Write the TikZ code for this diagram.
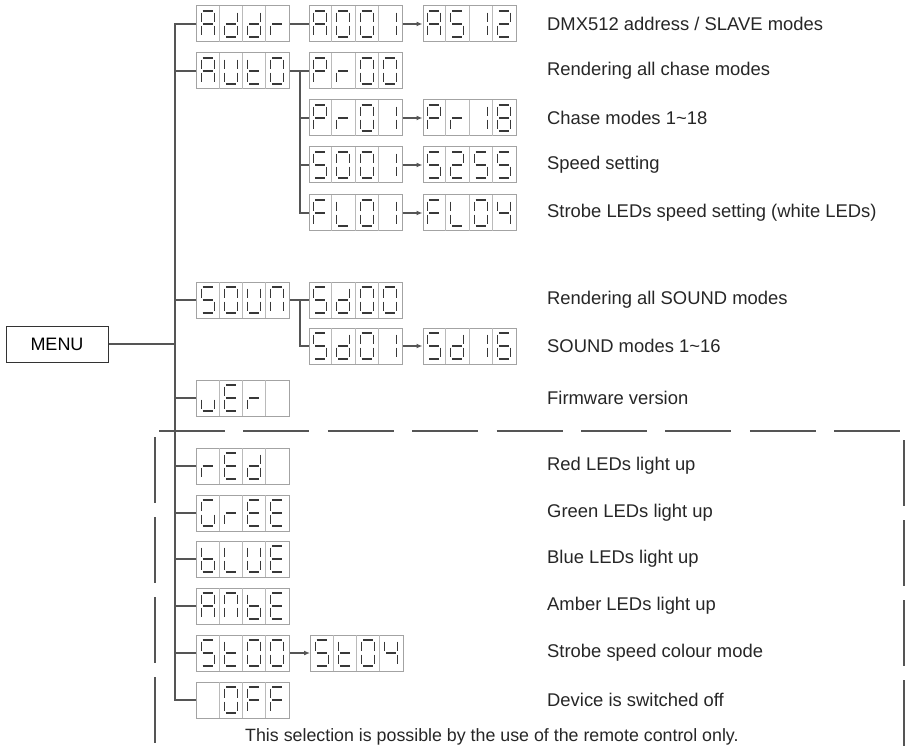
\documentclass[tikz,border=0pt]{standalone}
\usepackage{fontspec}
\setmainfont{Liberation Sans}
\usetikzlibrary{calc,arrows.meta}

\definecolor{linegray}{HTML}{555555}
\definecolor{boxgray}{HTML}{A3A3A3}
\definecolor{seggray}{HTML}{383838}

% segments of one digit, cell centre at origin (y runs down)
\newcommand{\sgA}{\draw[seg] (-4.9,-13) -- (4.9,-13);}
\newcommand{\sgB}{\draw[seg] (6.5,-11.4) -- (6.5,-1.6);}
\newcommand{\sgC}{\draw[seg] (6.5,1.6) -- (6.5,11.4);}
\newcommand{\sgD}{\draw[seg] (-4.9,13) -- (4.9,13);}
\newcommand{\sgE}{\draw[seg] (-6.5,1.6) -- (-6.5,11.4);}
\newcommand{\sgF}{\draw[seg] (-6.5,-11.4) -- (-6.5,-1.6);}
\newcommand{\sgG}{\draw[seg] (-4.9,0) -- (4.9,0);}

% glyphs
\newcommand{\dgA}{\sgA\sgB\sgC\sgE\sgF\sgG}
\newcommand{\dgd}{\sgB\sgC\sgD\sgE\sgG}
\newcommand{\dgr}{\sgE\sgG}
\newcommand{\dgO}{\sgA\sgB\sgC\sgD\sgE\sgF}
\newcommand{\dgone}{\sgB\sgC}
\newcommand{\dgtwo}{\sgA\sgB\sgG\sgE\sgD}
\newcommand{\dgfour}{\sgF\sgG\sgB\sgC}
\newcommand{\dgS}{\sgA\sgF\sgG\sgC\sgD}
\newcommand{\dgsix}{\sgA\sgF\sgG\sgE\sgD\sgC}
\newcommand{\dgeight}{\sgA\sgB\sgC\sgD\sgE\sgF\sgG}
\newcommand{\dgU}{\sgB\sgC\sgD\sgE\sgF}
\newcommand{\dgu}{\sgE\sgD\sgC}
\newcommand{\dgt}{\sgF\sgE\sgD\sgG}
\newcommand{\dgN}{\sgA\sgB\sgC\sgE\sgF}
\newcommand{\dgP}{\sgA\sgB\sgF\sgG\sgE}
\newcommand{\dgF}{\sgA\sgF\sgG\sgE}
\newcommand{\dgL}{\sgF\sgE\sgD}
\newcommand{\dgE}{\sgA\sgF\sgG\sgE\sgD}
\newcommand{\dgG}{\sgA\sgF\sgE\sgD\sgC}
\newcommand{\dgb}{\sgF\sgE\sgD\sgC\sgG}
\newcommand{\dgnone}{}

% one four-cell display: name, centre, glyphs
\newcommand{\display}[3]{%
  \node[dispbox] (#1) at (#2) {};
  \begin{scope}[shift={(#1.west)}]
    \foreach \k in {1,2,3} \draw[cellline] (\k*23.25,-18) -- (\k*23.25,18);
    \foreach \g [count=\i] in {#3} {\begin{scope}[xshift={(\i-0.5)*23.25}]\g\end{scope}}
  \end{scope}}

\begin{document}
\begin{tikzpicture}[x=1pt,y=-1pt,
  seg/.style={draw=seggray, line width=1.05pt},
  dispbox/.style={draw=boxgray, line width=1pt, minimum width=93pt, minimum height=36pt, inner sep=0pt},
  cellline/.style={draw=boxgray!75, line width=0.8pt},
  conn/.style={draw=linegray, line width=1.4pt},
  arr/.style={conn, -{Latex[length=6pt,width=5pt]}},
  lbl/.style={anchor=west, inner sep=0pt, text=black!85, font=\fontsize{18.4}{21}\selectfont},
  menubox/.style={draw=black!80, line width=1pt, minimum width=102pt, minimum height=36pt, inner sep=0pt, font=\fontsize{18}{21}\selectfont},
  sepline/.style={draw=linegray, line width=1.5pt}]
\useasboundingbox (0,0) rectangle (907,751);

\node[menubox] (menu) at (57,344) {MENU};
\coordinate (trunk) at (175,0);

% displays
\display{addr}{243,24}{\dgA,\dgd,\dgd,\dgr}
\display{a001}{355.5,24}{\dgA,\dgO,\dgO,\dgone}
\display{as12}{469.5,24}{\dgA,\dgS,\dgone,\dgtwo}
\display{auto}{243,71}{\dgA,\dgU,\dgt,\dgO}
\display{pr00}{355.5,71}{\dgP,\dgr,\dgO,\dgO}
\display{pr01}{355.5,118}{\dgP,\dgr,\dgO,\dgone}
\display{pr18}{469.5,118}{\dgP,\dgr,\dgone,\dgeight}
\display{s001}{355.5,165}{\dgS,\dgO,\dgO,\dgone}
\display{s255}{469.5,165}{\dgS,\dgtwo,\dgS,\dgS}
\display{fl01}{355.5,213}{\dgF,\dgL,\dgO,\dgone}
\display{fl04}{469.5,213}{\dgF,\dgL,\dgO,\dgfour}
\display{soun}{243,300}{\dgS,\dgO,\dgU,\dgN}
\display{sd00}{355.5,300}{\dgS,\dgd,\dgO,\dgO}
\display{sd01}{355.5,346}{\dgS,\dgd,\dgO,\dgone}
\display{sd16}{469.5,346}{\dgS,\dgd,\dgone,\dgsix}
\display{ver}{243,398}{\dgu,\dgE,\dgr,\dgnone}
\display{red}{243,466}{\dgr,\dgE,\dgd,\dgnone}
\display{gree}{243,513}{\dgG,\dgr,\dgE,\dgE}
\display{blue}{243,559}{\dgb,\dgL,\dgU,\dgE}
\display{ambe}{243,606}{\dgA,\dgN,\dgb,\dgE}
\display{st00}{243,653}{\dgS,\dgt,\dgO,\dgO}
\display{st04}{357,653}{\dgS,\dgt,\dgO,\dgfour}
\display{off}{243,700}{\dgnone,\dgO,\dgF,\dgF}

% tree
\draw[conn] (addr.west) -- (addr.west -| trunk) |- (off.west);
\foreach \n in {auto,soun,ver,red,gree,blue,ambe,st00} \draw[conn] (\n.west) -- (\n.west -| trunk);
\draw[conn] (menu.east) -- (menu.east -| trunk);
\draw[conn] (addr.east) -- (a001.west);
\draw[arr] (a001.east) -- (as12.west);
\draw[conn] (auto.east) -- (pr00.west);
\coordinate (autofork) at ($(auto.east)+(10,0)$);
\draw[conn] (autofork) |- (fl01.west);
\foreach \n in {pr01,s001} \draw[conn] (\n.west) -- (\n.west -| autofork);
\foreach \a/\b in {pr01/pr18,s001/s255,fl01/fl04} \draw[arr] (\a.east) -- (\b.west);
\draw[conn] (soun.east) -- (sd00.west);
\coordinate (sounfork) at ($(soun.east)+(10,0)$);
\draw[conn] (sounfork) |- (sd01.west);
\draw[arr] (sd01.east) -- (sd16.west);
\draw[arr] (st00.east) -- (st04.west);

% remote-only part
\draw[sepline, dash pattern=on 66pt off 18.4pt] (159,431) -- (900,431);
\draw[sepline, dash pattern=on 66pt off 14pt] (155,437) -- (155,744);
\draw[sepline, dash pattern=on 66pt off 14pt] (904,440) -- (904,746);

% descriptions
\node[lbl] (addrtxt) at (547,24) {DMX512 address / SLAVE modes};
\node[lbl] (autotxt) at (547,71) {Rendering all chase modes};
\node[lbl] (chasetxt) at (547,118) {Chase modes 1\textasciitilde18};
\node[lbl] (speedtxt) at (547,165) {Speed setting};
\node[lbl] (flashtxt) at (547,213) {Strobe LEDs speed setting (white LEDs)};
\node[lbl] (sountxt) at (547,300) {Rendering all SOUND modes};
\node[lbl] (soundtxt) at (547,346) {SOUND modes 1\textasciitilde16};
\node[lbl] (vertxt) at (547,398) {Firmware version};
\node[lbl] (redtxt) at (547,466) {Red LEDs light up};
\node[lbl] (greetxt) at (547,513) {Green LEDs light up};
\node[lbl] (bluetxt) at (547,559) {Blue LEDs light up};
\node[lbl] (ambetxt) at (547,606) {Amber LEDs light up};
\node[lbl] (sttxt) at (547,653) {Strobe speed colour mode};
\node[lbl] (offtxt) at (547,700) {Device is switched off};
\node[lbl, font=\fontsize{17.8}{21}\selectfont] (remotetxt) at (245,737) {This selection is possible by the use of the remote control only.};
\end{tikzpicture}
\end{document}
